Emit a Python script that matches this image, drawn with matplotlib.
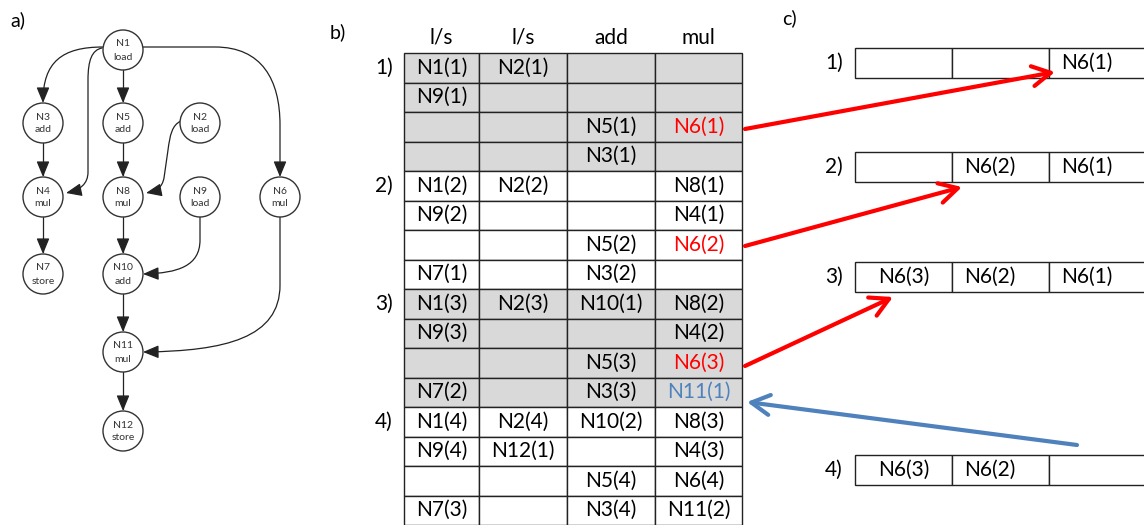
import matplotlib.pyplot as plt
from matplotlib.patches import Circle, Rectangle, FancyArrowPatch
from matplotlib.path import Path

plt.rcParams["font.family"] = ["Lato", "DejaVu Sans"]

# --- a) dataflow graph ---
node_names = ["N1", "N2", "N3", "N4", "N5", "N6", "N7", "N8", "N9", "N10", "N11", "N12"]
node_ops = ["load", "load", "add", "mul", "add", "mul", "store", "mul", "load", "add", "mul", "store"]
node_pos = {
    "N1": (123, 50), "N3": (43, 123), "N5": (123, 123), "N2": (200, 123),
    "N4": (43, 197), "N8": (123, 197), "N9": (200, 197), "N6": (280, 197),
    "N7": (43, 274), "N10": (123, 274), "N11": (123, 352), "N12": (123, 431),
}
straight_edges = [("N1", "N5"), ("N3", "N4"), ("N5", "N8"), ("N4", "N7"),
                  ("N8", "N10"), ("N10", "N11"), ("N11", "N12")]

# --- b) schedule table ---
col_headers = ["l/s", "l/s", "add", "mul"]
step_labels = ["1)", "2)", "3)", "4)"]
table_cells = [
    ["N1(1)", "N2(1)", "", ""],
    ["N9(1)", "", "", ""],
    ["", "", "N5(1)", "N6(1)"],
    ["", "", "N3(1)", ""],
    ["N1(2)", "N2(2)", "", "N8(1)"],
    ["N9(2)", "", "", "N4(1)"],
    ["", "", "N5(2)", "N6(2)"],
    ["N7(1)", "", "N3(2)", ""],
    ["N1(3)", "N2(3)", "N10(1)", "N8(2)"],
    ["N9(3)", "", "", "N4(2)"],
    ["", "", "N5(3)", "N6(3)"],
    ["N7(2)", "", "N3(3)", "N11(1)"],
    ["N1(4)", "N2(4)", "N10(2)", "N8(3)"],
    ["N9(4)", "N12(1)", "", "N4(3)"],
    ["", "", "N5(4)", "N6(4)"],
    ["N7(3)", "", "N3(4)", "N11(2)"],
]
red_cells = [(2, 3), (6, 3), (10, 3)]
blue_cells = [(11, 3)]

# --- c) buffer contents ---
buffer_rows = [
    ["", "", "N6(1)"],
    ["", "N6(2)", "N6(1)"],
    ["N6(3)", "N6(2)", "N6(1)"],
    ["N6(3)", "N6(2)", ""],
]

RED = "#ff0000"
BLUE = "#4f81bd"
GREY = "#d9d9d9"

fig = plt.figure(figsize=(11.44, 5.25), dpi=100)
ax = fig.add_axes([0, 0, 1, 1])
ax.set_xlim(0, 1144)
ax.set_ylim(525, 0)
ax.axis("off")

# panel a
R = 20
ax.text(10, 20, "a)", fontsize=14, va="center")
for name, op in zip(node_names, node_ops):
    x, y = node_pos[name]
    ax.add_patch(Circle((x, y), R, facecolor="white", edgecolor="#333333", lw=1.0, zorder=3))
    ax.text(x, y - 6, name, fontsize=7.5, ha="center", va="center", color="#333333", zorder=4)
    ax.text(x, y + 7, op, fontsize=7.5, ha="center", va="center", color="#333333", zorder=4)

def arrow(path):
    ax.add_patch(FancyArrowPatch(path=path, arrowstyle="-|>,head_length=0.8,head_width=0.33",
                                 mutation_scale=12, color="#222222", lw=0.9,
                                 shrinkA=0, shrinkB=0, zorder=2))

for a, b in straight_edges:
    xa, ya = node_pos[a]
    xb, yb = node_pos[b]
    arrow(Path([(xa, ya + R), (xb, yb - R)], [Path.MOVETO, Path.LINETO]))

M, L, C = Path.MOVETO, Path.LINETO, Path.CURVE4
curved_edges = [
    # N1 -> N3
    Path([(103, 47), (62, 47), (43, 62), (43, 103)], [M, C, C, C]),
    # N1 -> N4
    Path([(102, 48), (92, 50), (88, 60), (88, 80), (88, 172), (88, 184), (80, 190), (66, 193)],
         [M, C, C, C, L, C, C, C]),
    # N1 -> N6
    Path([(143, 47), (215, 47), (262, 47), (280, 80), (280, 125), (280, 177)],
         [M, L, C, C, C, L]),
    # N2 -> N8
    Path([(181, 121), (172, 125), (170, 135), (168, 150), (164, 178), (162, 188), (156, 191), (146, 193)],
         [M, C, C, C, L, C, C, C]),
    # N9 -> N10
    Path([(200, 217), (200, 240), (200, 266), (178, 273), (143, 274)], [M, L, C, C, C]),
    # N6 -> N11
    Path([(280, 217), (280, 285), (280, 338), (225, 351), (143, 352)], [M, L, C, C, C]),
]
for p in curved_edges:
    arrow(p)

# panel b
col_x = [404, 479, 567, 655, 742]
row_top = 53
row_h = 29.5
ax.text(330, 32, "b)", fontsize=14, va="center")
for j, h in enumerate(col_headers):
    ax.text((col_x[j] + col_x[j + 1]) / 2, 38, h, fontsize=15, ha="center", va="center")
for i, row in enumerate(table_cells):
    y0 = row_top + i * row_h
    shaded = (i // 4) % 2 == 0
    for j, txt in enumerate(row):
        ax.add_patch(Rectangle((col_x[j], y0), col_x[j + 1] - col_x[j], row_h,
                               facecolor=GREY if shaded else "white",
                               edgecolor="#222222", lw=1.0))
        color = "black"
        if (i, j) in red_cells:
            color = RED
        elif (i, j) in blue_cells:
            color = BLUE
        if txt:
            ax.text((col_x[j] + col_x[j + 1]) / 2, y0 + row_h / 2, txt, fontsize=15,
                    ha="center", va="center", color=color)
for k, lab in enumerate(step_labels):
    ax.text(393, row_top + (4 * k + 0.5) * row_h, lab, fontsize=15, ha="right", va="center")

# panel c
ax.text(782, 18, "c)", fontsize=14, va="center")
buf_left = 855
buf_w = 97
buf_h = 29.5
buf_tops = [48, 152, 262, 455]
text_shift = [0, -11, -11]
for k, (row, top) in enumerate(zip(buffer_rows, buf_tops)):
    ax.text(843, top + buf_h / 2, step_labels[k], fontsize=15, ha="right", va="center")
    for j, txt in enumerate(row):
        x0 = buf_left + j * buf_w
        ax.add_patch(Rectangle((x0, top), buf_w, buf_h, facecolor="white",
                               edgecolor="#222222", lw=1.0))
        if txt:
            ax.text(x0 + buf_w / 2 + text_shift[j], top + buf_h / 2, txt, fontsize=15,
                    ha="center", va="center")

moves = [
    ((745, 129), (1055, 72), RED),
    ((745, 246), (962, 187), RED),
    ((745, 366), (893, 297), RED),
    ((1077, 445), (747, 402), BLUE),
]
for (x0, y0), (x1, y1), c in moves:
    ax.add_patch(FancyArrowPatch((x0, y0), (x1, y1),
                                 arrowstyle="->,head_length=1.1,head_width=0.6",
                                 mutation_scale=12, color=c, lw=3,
                                 shrinkA=0, shrinkB=0, zorder=5))

fig.savefig("out.png", dpi=100)
